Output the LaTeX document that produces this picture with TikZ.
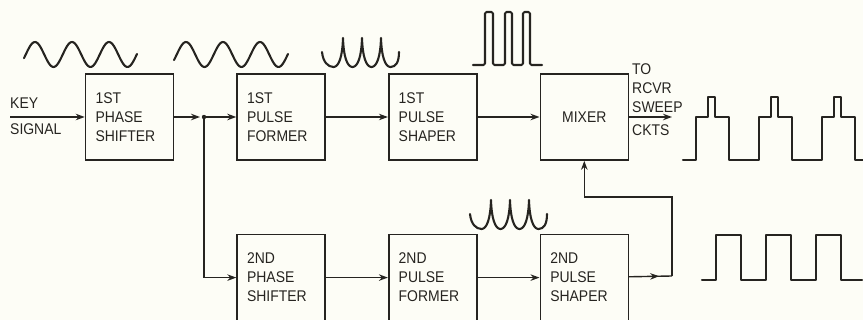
\documentclass[tikz,border=0pt]{standalone}
\usepackage{fontspec}
\setmainfont{Liberation Sans}[FakeStretch=0.9]
\usetikzlibrary{positioning,arrows.meta,decorations.markings}

\definecolor{paper}{RGB}{253,253,246}
\definecolor{ink}{RGB}{38,36,32}

\begin{document}
\begin{tikzpicture}[
    x=1pt, y=-1pt,
    node distance=73pt and 62pt,
    font=\fontsize{15.5}{19}\selectfont,
    blk/.style={draw=ink, line width=1.6pt, rectangle, minimum width=88pt, minimum height=86pt, text width=68pt, inner xsep=10pt, inner ysep=0pt, align=left, text=ink},
    lbl/.style={inner sep=0pt, align=left, text=ink},
    arr/.style={-{Stealth[length=9pt,width=6.5pt]}, line width=1.4pt, draw=ink},
    midarr/.style={line width=1.4pt, draw=ink, postaction={decorate}, decoration={markings, mark=at position #1 with {\arrow{Stealth[length=9pt,width=6.5pt]}}}},
    wave/.style={line width=2.1pt, draw=ink, line join=round, line cap=round},
    peaks/.pic={
        \draw[wave] (0,0) .. controls (1,10) and (6,15) .. (11.5,15)
            .. controls (17,15) and (20.5,4) .. (21,-14)
            .. controls (21.5,4) and (25,15) .. (30.5,15)
            .. controls (36,15) and (39.5,4) .. (40,-14)
            .. controls (40.5,4) and (44,15) .. (49.5,15)
            .. controls (55,15) and (58.5,4) .. (59,-14)
            .. controls (59.5,4) and (63,15) .. (68.5,15)
            .. controls (74,15) and (77,10) .. (77,0);
    }
]
\useasboundingbox (0,0) rectangle (863,320);
\fill[paper] (0,0) rectangle (863,320);

% Blocks
\node[blk] (ps1) at (129.5,117) {1ST\\PHASE\\SHIFTER};
\node[blk, right=of ps1] (pf1) {1ST\\PULSE\\FORMER};
\node[blk, right=of pf1] (sh1) {1ST\\PULSE\\SHAPER};
\node[blk, right=of sh1, align=center] (mix) {MIXER};
\node[blk, below=of pf1] (ps2) {2ND\\PHASE\\SHIFTER};
\node[blk, right=of ps2] (pf2) {2ND\\PULSE\\FORMER};
\node[blk, right=of pf2] (sh2) {2ND\\PULSE\\SHAPER};

% Labels
\node[lbl, anchor=west] (key) at (10,103) {KEY};
\node[lbl, anchor=west] (sig) at (10,129) {SIGNAL};
\node[lbl, anchor=south west] (dest) at (632,112.5) {TO\\RCVR\\SWEEP};
\node[lbl, anchor=west] (ckts) at (632,130) {CKTS};

% Connectors
\coordinate (in) at (10,117);
\coordinate (jn) at (204,117);
\coordinate (out) at (672,117);
\coordinate (fbr) at (672,276);
\coordinate (fbt) at (672,197);

\draw[arr] (in) -- (ps1);
\draw[arr, shorten >=4pt] (ps1) -- (jn);
\fill[ink] (jn) circle (2.2pt);
\draw[arr] (jn) -- (pf1);
\draw[arr] (pf1) -- (sh1);
\draw[arr] (sh1) -- (mix);
\draw[arr] (mix) -- (out);
\draw[arr] (jn) |- (ps2);
\draw[arr] (ps2) -- (pf2);
\draw[arr] (pf2) -- (sh2);
\draw[midarr=0.7] (sh2) -- (fbr);
\draw[arr] (fbr) -- (fbt) -| (mix.south);

% Waveforms
\draw[wave] plot[domain=24:137, samples=90] (\x, {54.5 - 12.5*cos((\x-35)/37*360)});
\draw[wave] plot[domain=174:288, samples=90] (\x, {54.5 - 12.5*cos((\x-186)/37*360)});
\pic at (322,52) {peaks};
\pic at (470,214) {peaks};
\draw[wave, rounded corners=1.5pt] (473,65) -- (485,65) -- (485,12) -- (493,12) -- (493,65)
    -- (505,65) -- (505,12) -- (512,12) -- (512,65)
    -- (523,65) -- (523,12) -- (530,12) -- (530,65) -- (542,65);
\draw[wave] (683,160) \foreach \r in {696,759,822} {
    -- (\r,160) -- (\r,117) -- ++(12,0) -- ++(0,-20) -- ++(7,0) -- ++(0,20) -- ++(14,0) -- ++(0,43)
} -- (863,160);
\draw[wave] (702,280) \foreach \r in {716,766,816} {
    -- (\r,280) -- (\r,235) -- ++(25,0) -- ++(0,45)
} -- (862,280);

\end{tikzpicture}
\end{document}
